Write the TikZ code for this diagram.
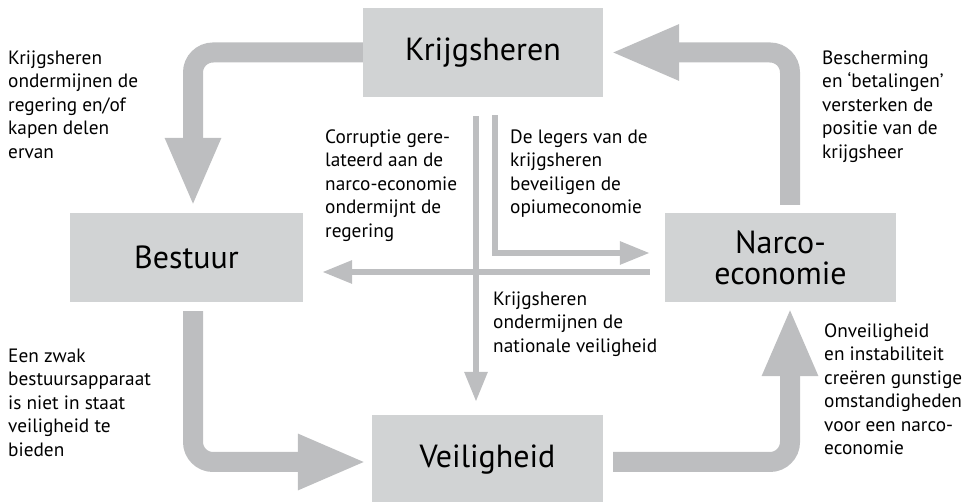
\documentclass[tikz,border=0pt]{standalone}
\usepackage{fontspec}
\setmainfont{PT Sans}
\usetikzlibrary{arrows.meta,calc}
\definecolor{boxgray}{RGB}{209,211,212}
\definecolor{arrowgray}{RGB}{189,190,192}
\begin{document}
\begin{tikzpicture}[x=1pt,y=1pt,
  box/.style={fill=boxgray, draw=none, minimum width=#1, minimum height=89pt, inner sep=0pt, font=\fontsize{32}{31}\selectfont, align=center},
  bigarrow/.style={draw=arrowgray, line width=20pt, rounded corners=20pt, -{Triangle[width=51pt,length=69pt]}},
  smallarrow/.style={draw=arrowgray, line width=6pt, -{Triangle[width=22pt,length=30pt]}},
  note/.style={anchor=north west, inner sep=0pt, align=left, font=\fontsize{19.3}{23.5}\selectfont, execute at begin node=\strut}]
\useasboundingbox (0,0) rectangle (968,502);
% boxes
\node[box=240pt] (K) at (483,449.5) {Krijgsheren};
\node[box=233pt] (B) at (186.5,244.5) {Bestuur};
\node[box=231pt] (N) at (780.5,244.5) {Narco-\\economie};
\node[box=231pt] (V) at (487.5,42.5) {Veiligheid};
% thick arrows
\draw[bigarrow] (K.west) -| ($(B.north)+(6.5,6)$);
\draw[bigarrow] ($(B.south)+(6.5,-9)$) |- ($(V.west)+(-5,-2.5)$);
\draw[bigarrow] ($(V.east)+(10,-2.5)$) -| ($(N.south)+(9.5,-5)$);
\draw[bigarrow] ($(N.north)+(9.5,8)$) |- ($(K.east)+(7,0)$);
% thin arrows
\draw[smallarrow] ($(K.south)+(-7,-19)$) -- ($(V.north)+(-11.5,13)$);
\draw[smallarrow] ($(K.south)+(12,-18)$) |- ($(N.west)+(-15,4.5)$);
\draw[smallarrow] ($(N.west)+(-15,-14.5)$) -- ($(B.east)+(19,-14.5)$);
% notes
\node[note] (tl) at (8,451.45) {Krijgsheren\\ondermijnen de\\regering en/of\\kapen delen\\ervan};
\node[note] (bl) at (8,153.45) {Een zwak\\bestuursapparaat\\is niet in staat\\veiligheid te\\bieden};
\node[note] (cl) at (325,372.45) {Corruptie gere-\\lateerd aan de\\narco-economie\\ondermijnt de\\regering};
\node[note] (cr) at (510,372.45) {De legers van de\\krijgsheren\\beveiligen de\\opiumeconomie};
\node[note] (cb) at (493,210.45) {Krijgsheren\\ondermijnen de\\nationale veiligheid};
\node[note] (tr) at (822,451.45) {Bescherming\\en ‘betalingen’\\versterken de\\positie van de\\krijgsheer};
\node[note] (br) at (824,178.45) {Onveiligheid\\en instabiliteit\\creëren gunstige\\omstandigheden\\voor een narco-\\economie};
\end{tikzpicture}
\end{document}
